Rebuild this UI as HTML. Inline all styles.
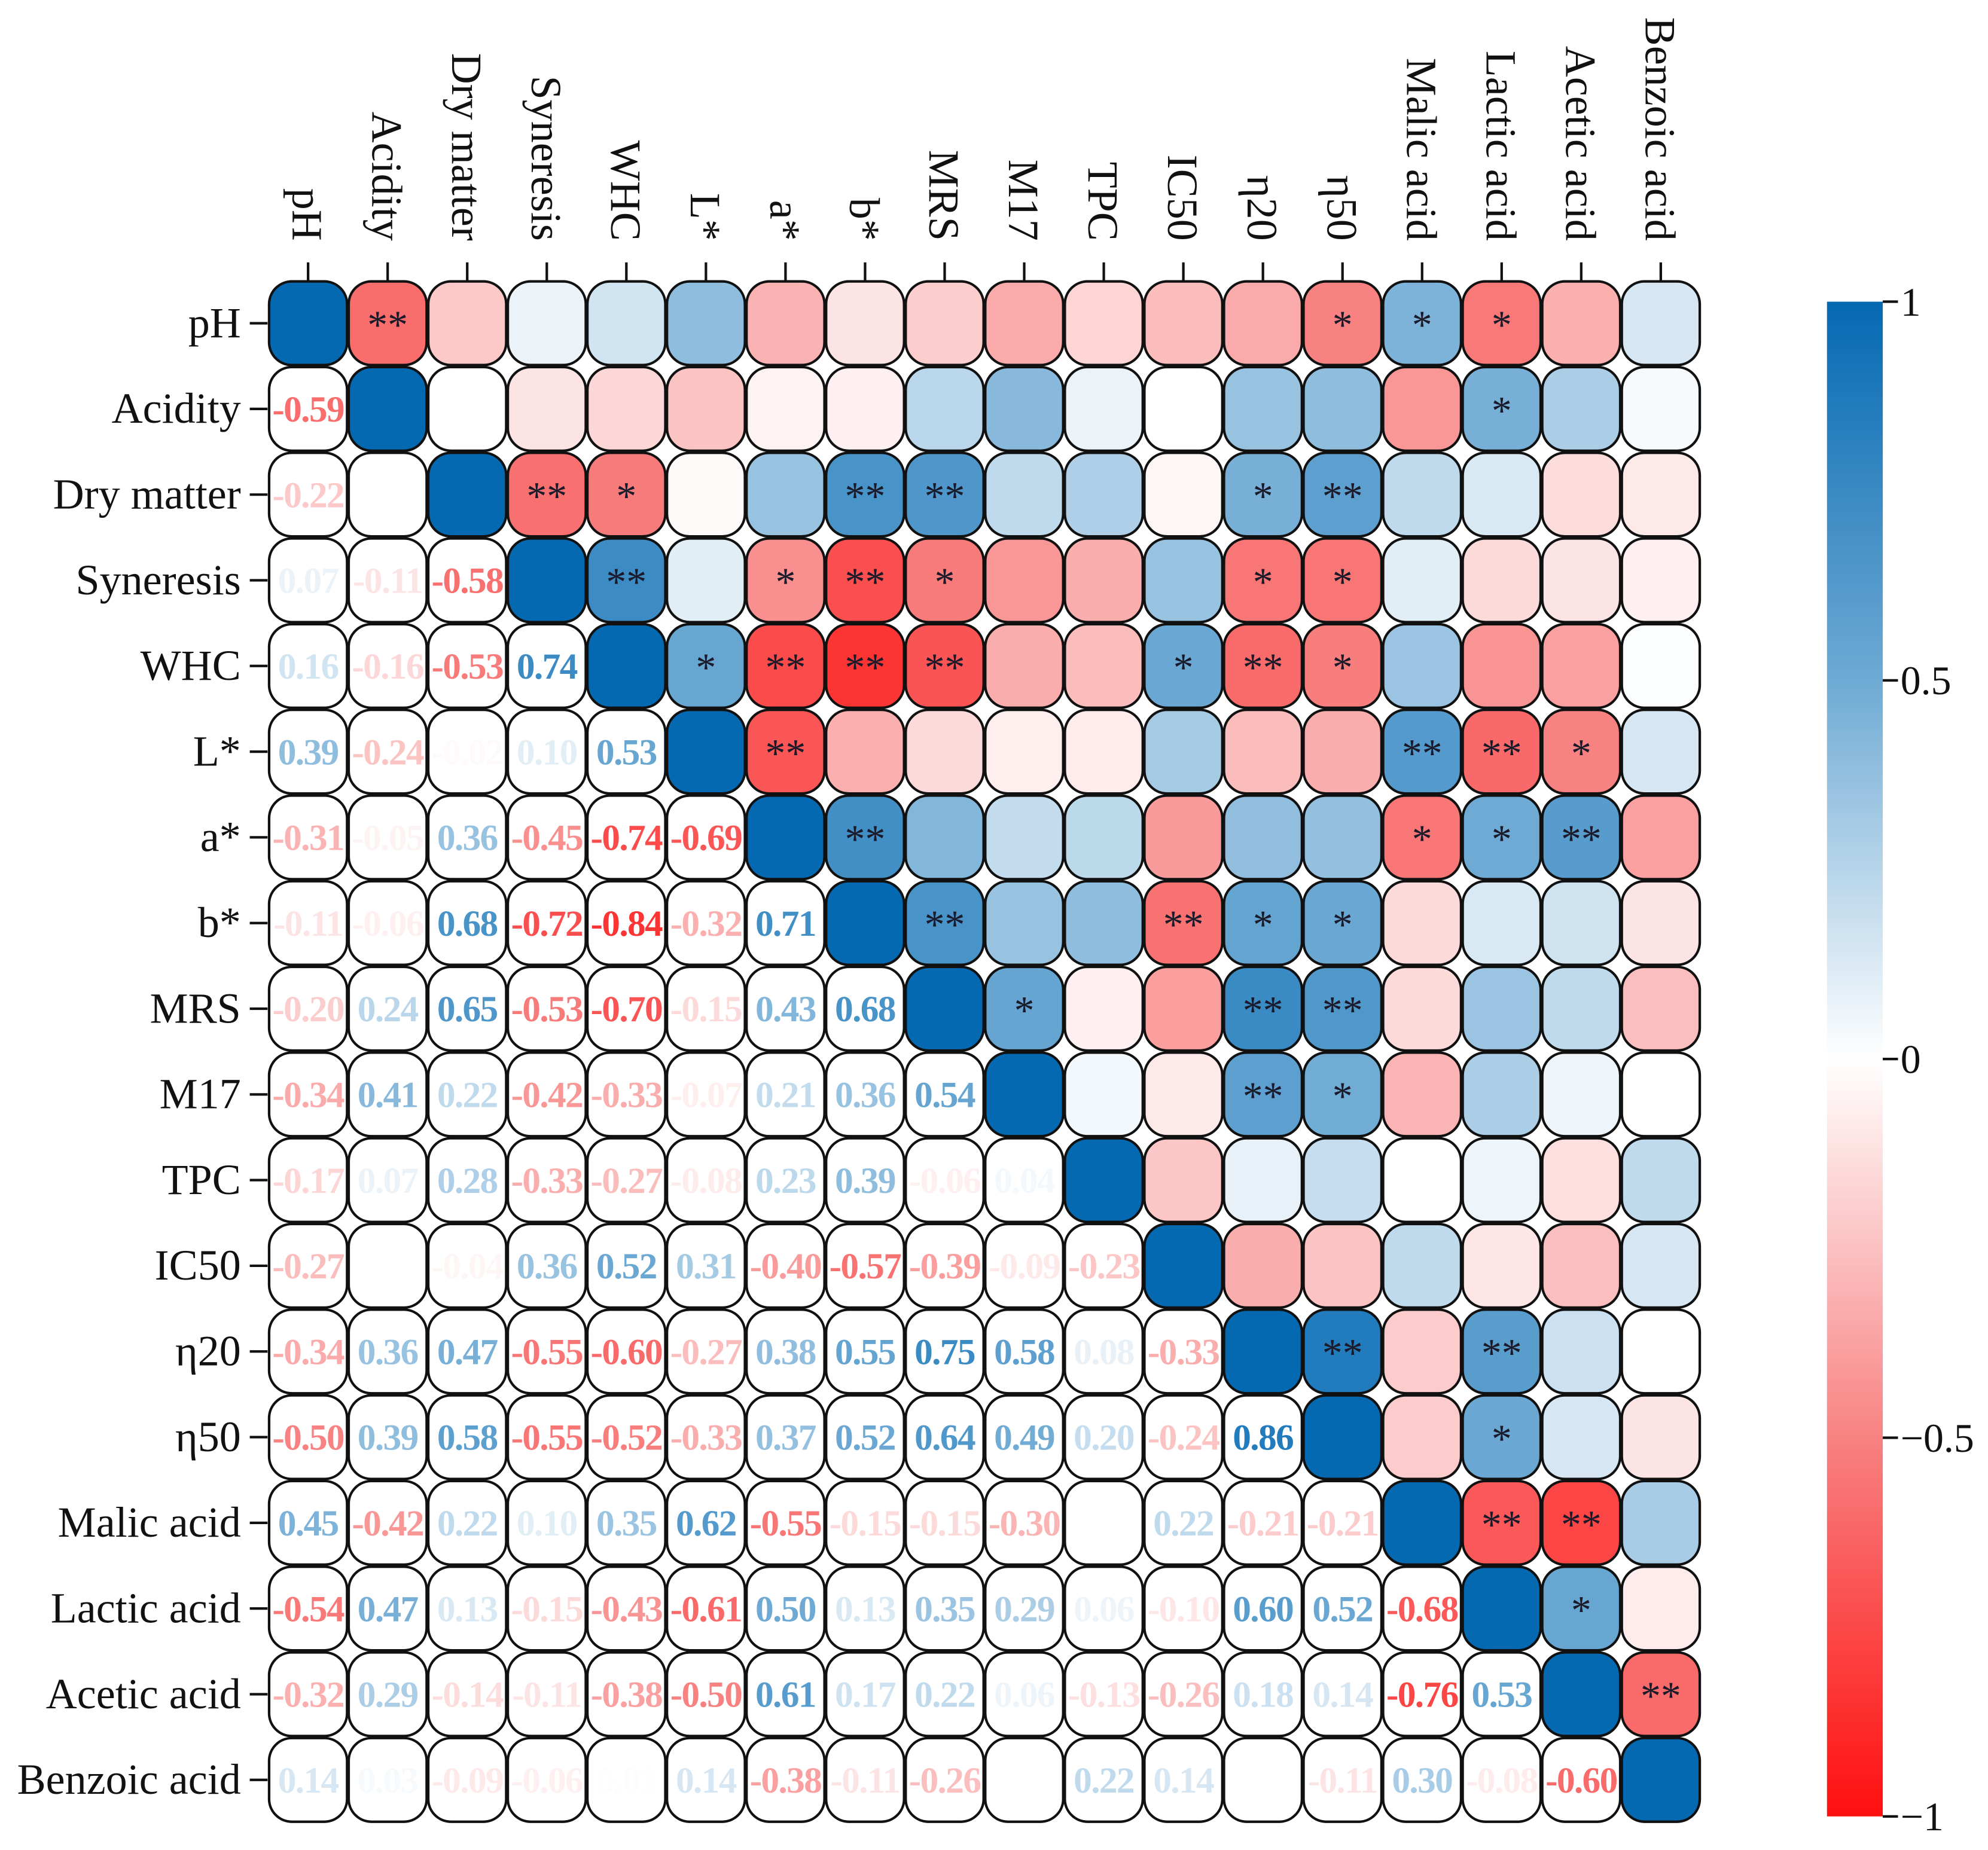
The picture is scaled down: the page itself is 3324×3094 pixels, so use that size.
<!DOCTYPE html>
<html><head><meta charset="utf-8"><style>
html,body{margin:0;padding:0;background:#fff;}
svg{display:block;}
</style></head><body>
<svg id="chart" width="3324" height="3094" viewBox="0 0 1568 1459.5" xmlns="http://www.w3.org/2000/svg">
<defs>
<linearGradient id="cbar" x1="0" y1="0" x2="0" y2="1">
<stop offset="0" stop-color="rgb(5,105,178)"/>
<stop offset="0.25" stop-color="rgb(110,170,212)"/>
<stop offset="0.5" stop-color="rgb(255,255,255)"/>
<stop offset="0.75" stop-color="rgb(248,130,130)"/>
<stop offset="1" stop-color="rgb(255,15,15)"/>
</linearGradient>
</defs>
<g id="cells"></g>
<g id="labels"></g>
<g id="colorbar">
<rect x="1441" y="238" width="44" height="1195" fill="url(#cbar)"/>
</g>
</svg>
<script>
const variables = ["pH","Acidity","Dry matter","Syneresis","WHC","L*","a*","b*","MRS","M17","TPC","IC50","η20","η50","Malic acid","Lactic acid","Acetic acid","Benzoic acid"];
const lowerValues = [
[],
[-0.59],
[-0.22,0.00],
[0.07,-0.11,-0.58],
[0.16,-0.16,-0.53,0.74],
[0.39,-0.24,-0.02,0.10,0.53],
[-0.31,-0.05,0.36,-0.45,-0.74,-0.69],
[-0.11,-0.06,0.68,-0.72,-0.84,-0.32,0.71],
[-0.20,0.24,0.65,-0.53,-0.70,-0.15,0.43,0.68],
[-0.34,0.41,0.22,-0.42,-0.33,-0.07,0.21,0.36,0.54],
[-0.17,0.07,0.28,-0.33,-0.27,-0.08,0.23,0.39,-0.06,0.04],
[-0.27,0.00,-0.04,0.36,0.52,0.31,-0.40,-0.57,-0.39,-0.09,-0.23],
[-0.34,0.36,0.47,-0.55,-0.60,-0.27,0.38,0.55,0.75,0.58,0.08,-0.33],
[-0.50,0.39,0.58,-0.55,-0.52,-0.33,0.37,0.52,0.64,0.49,0.20,-0.24,0.86],
[0.45,-0.42,0.22,0.10,0.35,0.62,-0.55,-0.15,-0.15,-0.30,0.00,0.22,-0.21,-0.21],
[-0.54,0.47,0.13,-0.15,-0.43,-0.61,0.50,0.13,0.35,0.29,0.06,-0.10,0.60,0.52,-0.68],
[-0.32,0.29,-0.14,-0.11,-0.38,-0.50,0.61,0.17,0.22,0.06,-0.13,-0.26,0.18,0.14,-0.76,0.53],
[0.14,0.03,-0.09,-0.06,0.01,0.14,-0.38,-0.11,-0.26,0.00,0.22,0.14,0.00,-0.11,0.30,-0.08,-0.60]
];
const significance = [
[0,1,"**"],[0,13,"*"],[0,14,"*"],[0,15,"*"],
[1,15,"*"],
[2,3,"**"],[2,4,"*"],[2,7,"**"],[2,8,"**"],[2,12,"*"],[2,13,"**"],
[3,4,"**"],[3,6,"*"],[3,7,"**"],[3,8,"*"],[3,12,"*"],[3,13,"*"],
[4,5,"*"],[4,6,"**"],[4,7,"**"],[4,8,"**"],[4,11,"*"],[4,12,"**"],[4,13,"*"],
[5,6,"**"],[5,14,"**"],[5,15,"**"],[5,16,"*"],
[6,7,"**"],[6,14,"*"],[6,15,"*"],[6,16,"**"],
[7,8,"**"],[7,11,"**"],[7,12,"*"],[7,13,"*"],
[8,9,"*"],[8,12,"**"],[8,13,"**"],
[9,12,"**"],[9,13,"*"],
[12,13,"**"],[12,15,"**"],
[13,15,"*"],
[14,15,"**"],[14,16,"**"],
[15,16,"*"],
[16,17,"**"]
];
const colorTicks = [1,0.5,0,-0.5,-1];
const colorTickLabels = ["1","0.5","0","\u22120.5","\u22121"];

const NS="http://www.w3.org/2000/svg";
const x0=243, dx=62.76, y0=255, dy=67.6, cw=61.5, ch=66;
const xPos=j=>x0+j*dx, yPos=i=>y0+i*dy;
const cbTop=238, cbBot=1433;
const cbY=v=>cbTop+(1-v)/2*(cbBot-cbTop);
function lerp(a,b,t){return a.map((c,k)=>Math.round(c+(b[k]-c)*t));}
function cmap(v){
  v=Math.max(-1,Math.min(1,v));
  const W=[255,255,255];
  let c;
  if(v>=0){ c = v<0.5? lerp(W,[110,170,212],v/0.5) : lerp([110,170,212],[5,105,178],(v-0.5)/0.5); }
  else { const a=-v; c = a<0.5? lerp(W,[248,130,130],a/0.5) : lerp([248,130,130],[255,15,15],(a-0.5)/0.5); }
  return `rgb(${c[0]},${c[1]},${c[2]})`;
}
function val(i,j){ if(i===j) return 1; return i>j? lowerValues[i][j] : lowerValues[j][i]; }
function mk(tag,attrs,parent){const e=document.createElementNS(NS,tag);for(const k in attrs)e.setAttribute(k,attrs[k]);parent.appendChild(e);return e;}
const cells=document.getElementById('cells'), labels=document.getElementById('labels');
const n=variables.length;
const sigMap={}; significance.forEach(s=>sigMap[s[0]+'_'+s[1]]=s[2]);
for(let i=0;i<n;i++){
  for(let j=0;j<n;j++){
    const v=val(i,j);
    const fill = (j>=i)? cmap(v) : '#ffffff';
    const r=mk('rect',{x:xPos(j)-cw/2,y:yPos(i)-ch/2,width:cw,height:ch,rx:18,ry:18,fill:fill,stroke:'#111',"stroke-width":2},cells);
    
    
    if(j<i && Math.abs(v)>=0.005){
      const t=mk('text',{x:xPos(j),y:yPos(i)+10,"text-anchor":"middle","font-family":"Liberation Serif, serif","font-weight":"bold","font-size":29,fill:cmap(v),"letter-spacing":"-0.8"},cells);
      t.textContent=v.toFixed(2);
      
      
    }
    const s=sigMap[i+'_'+j];
    if(j>i && s){
      const t=mk('text',{x:xPos(j),y:yPos(i)+12,"text-anchor":"middle","font-family":"Liberation Serif, serif","font-size":32,fill:"#1a1a2a"},cells);
      t.textContent=s;
      
      
    }
  }
}
for(let i=0;i<n;i++){
  const l=mk('line',{x1:197,x2:211,y1:yPos(i),y2:yPos(i),stroke:'#111',"stroke-width":2},labels);
  
  
  const t=mk('text',{x:190,y:yPos(i)+11,"text-anchor":"end","font-family":"Liberation Serif, serif","font-size":34,fill:"#111"},labels);
  t.textContent=variables[i];
  
  
  const l2=mk('line',{x1:xPos(i),x2:xPos(i),y1:207,y2:221,stroke:'#111',"stroke-width":2},labels);
  
  
  const t2=mk('text',{x:0,y:0,"text-anchor":"end","font-family":"Liberation Serif, serif","font-size":34,fill:"#111",transform:`translate(${xPos(i)-12},190) rotate(90)`},labels);
  t2.textContent=variables[i];
  
  
}
const cb=document.getElementById('colorbar');
colorTicks.forEach((v,k)=>{
  const y=cbY(v);
  const l=mk('line',{x1:1485,x2:1497,y1:y,y2:y,stroke:'#111',"stroke-width":2},cb);
  
  
  const t=mk('text',{x:1499,y:y+11,"font-family":"Liberation Serif, serif","font-size":32,fill:"#111"},cb);
  t.textContent=colorTickLabels[k];
  
  
});
</script>
</body></html>
